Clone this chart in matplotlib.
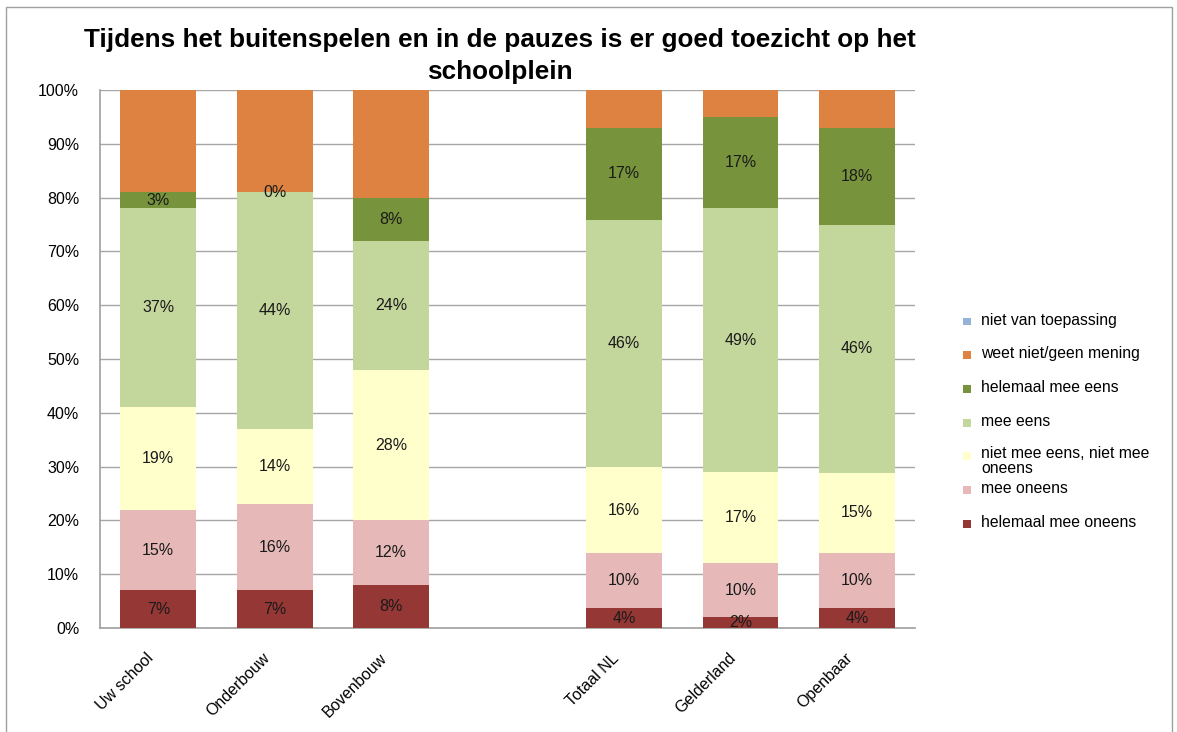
import numpy as np
import matplotlib.pyplot as plt
import matplotlib.transforms as mtransforms
from matplotlib.patches import Rectangle

plt.rcParams['font.family'] = ['Liberation Sans', 'DejaVu Sans']

# Data
groups = ['Uw school', 'Onderbouw', 'Bovenbouw', 'Totaal NL', 'Gelderland', 'Openbaar']
positions = [0, 1, 2, 4, 5, 6]
helemaal_oneens = [7, 7, 8, 3.7, 2, 3.7]
oneens = [15, 16, 12, 10.2, 10, 10.2]
neutraal = [19, 14, 28, 16, 17, 15]
eens = [37, 44, 24, 46, 49, 46]
helemaal_eens = [3, 0, 8, 17, 17, 18]
weet_niet = [19, 19, 20, 7.1, 5, 7.1]
niet_van_toepassing = [0, 0, 0, 0, 0, 0]

series = [
    ('helemaal mee oneens', helemaal_oneens, '#953735', True),
    ('mee oneens', oneens, '#E6B9B8', True),
    ('niet mee eens, niet mee\noneens', neutraal, '#FFFFCC', True),
    ('mee eens', eens, '#C3D69B', True),
    ('helemaal mee eens', helemaal_eens, '#77933C', True),
    ('weet niet/geen mening', weet_niet, '#DD8241', False),
    ('niet van toepassing', niet_van_toepassing, '#95B3D7', False),
]

fig = plt.figure(figsize=(11.77, 7.32), dpi=100)
ax = fig.add_axes([0.085, 0.142, 0.6925, 0.735])

bottom = np.zeros(len(groups))
for name, vals, color, show in series:
    vals = np.array(vals, dtype=float)
    ax.bar(positions, vals, bottom=bottom, width=0.65, color=color,
           label=name, zorder=3)
    if show:
        for x, v, bt in zip(positions, vals, bottom):
            ax.text(x, bt + v / 2, f'{v:.0f}%', ha='center', va='center',
                    fontsize=11.5, color='#1a1a1a', zorder=4)
    bottom += vals

ax.set_ylim(0, 100)
ax.set_xlim(-0.5, 6.5)
ax.set_yticks(np.arange(0, 101, 10))
ax.set_yticklabels([f'{t}%' for t in range(0, 101, 10)], fontsize=11.5)
ax.set_xticks(positions)
ax.set_xticklabels(groups, rotation=45, ha='right', va='center',
                   rotation_mode='anchor', fontsize=11.5)
ax.tick_params(axis='x', length=0, pad=20)
ax.tick_params(axis='y', length=0, pad=15)
shift = mtransforms.ScaledTranslation(-7 / 100, 0, fig.dpi_scale_trans)
for lbl in ax.get_xticklabels():
    lbl.set_transform(lbl.get_transform() + shift)
ax.yaxis.grid(True, color='#A6A6A6', linewidth=1, zorder=0)
ax.set_axisbelow(True)
for s in ['top', 'right']:
    ax.spines[s].set_visible(False)
for s in ['left', 'bottom']:
    ax.spines[s].set_color('#A0A0A0')
    ax.spines[s].set_linewidth(1.2)

fig.suptitle('Tijdens het buitenspelen en in de pauzes is er goed toezicht op het\nschoolplein',
             x=0.425, y=0.962, fontsize=18.8, fontweight='bold', linespacing=1.42)

# legend, drawn entry by entry (top entry is the last series)
leg_x = 967 / 1177
leg_y0 = 320
for i, (name, vals, color, show) in enumerate(series[::-1]):
    yc = 1 - (leg_y0 + i * 33.7) / 732
    fig.patches.append(Rectangle((leg_x - 0.0034, yc - 0.0075), 0.0068, 0.0109,
                                 transform=fig.transFigure, facecolor=color,
                                 edgecolor='none'))
    fig.text(leg_x + 0.012, yc, name, ha='left',
             va='top' if '\n' in name else 'center',
             fontsize=11.3, linespacing=1.0,
             transform=fig.transFigure)
    if '\n' in name:
        fig.texts[-1].set_y(yc + 0.0115)

fig.patches.append(Rectangle((0.005, -0.01), 0.991, 1.0, transform=fig.transFigure,
                             fill=False, edgecolor='#A0A0A0', linewidth=1))

fig.savefig('out.png', dpi=100)
